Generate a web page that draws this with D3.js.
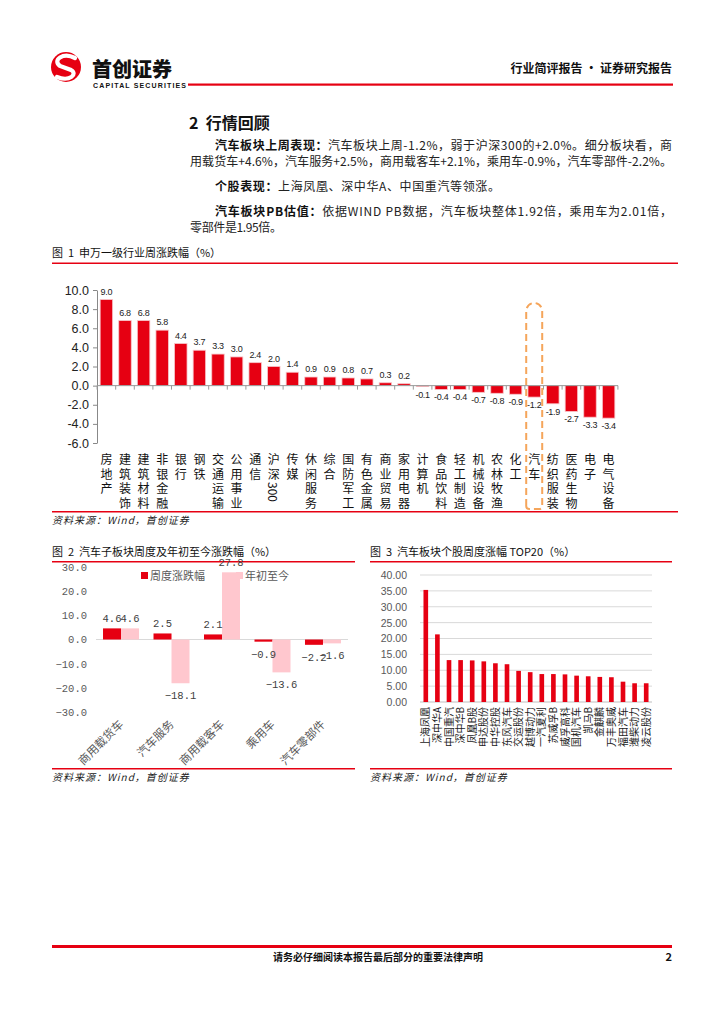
<!DOCTYPE html>
<html><head><meta charset="utf-8">
<script src="https://cdn.jsdelivr.net/npm/d3@7"></script>
<style>body{margin:0;background:#fff}svg{display:block}</style>
</head><body>
<svg id="c" width="724" height="1024"></svg>
<script>
// ---------- data ----------
const industries = ["房地产","建筑装饰","建筑材料","非银金融","银行","钢铁","交通运输","公用事业","通信","沪深300","传媒","休闲服务","综合","国防军工","有色金属","商业贸易","家用电器","计算机","食品饮料","轻工制造","机械设备","农林牧渔","化工","汽车","纺织服装","医药生物","电子","电气设备"];
const industryChange = [9.0,6.8,6.8,5.8,4.4,3.7,3.3,3.0,2.4,2.0,1.4,0.9,0.9,0.8,0.7,0.3,0.2,-0.1,-0.4,-0.4,-0.7,-0.8,-0.9,-1.2,-1.9,-2.7,-3.3,-3.4];
const fig1Ticks = [10,8,6,4,2,0,-2,-4,-6];
const highlightIndustry = "汽车";

const subSectors = ["商用载货车","汽车服务","商用载客车","乘用车","汽车零部件"];
const subWeekly = [4.6,2.5,2.1,-0.9,-2.2];
const subYtd = [4.6,-18.1,27.8,-13.6,-1.6];
const subSeriesNames = ["周度涨跌幅","年初至今"];
const fig2Ticks = [30,20,10,0,-10,-20,-30];

const stocks = ["上海凤凰","深中华A","中国重汽","深中华B","凤凰B股","申达股份","中华控股","东风汽车","交运股份","越博动力","一汽夏利","苏威孚B","威孚高科","国机汽车","凯马B","金麒麟","万丰奥威","福田汽车","潍柴动力","凌云股份"];
const stockGain = [35.3,21.3,13.2,13.2,13.1,12.8,12.2,11.9,9.8,9.4,8.8,8.8,8.7,8.3,8.1,7.9,7.8,6.4,5.9,5.9];
const fig3Ticks = [0,5,10,15,20,25,30,35,40];

// ---------- styles ----------
const RED = "#E60012", PINK = "#FFC7CE", CJK = "'Noto Sans CJK SC','Noto Sans',sans-serif";
const LAT = "'Liberation Sans','Noto Sans CJK SC',sans-serif";
const MONO = "'Liberation Mono','Noto Sans CJK SC',monospace";
const svg = d3.select("#c");
svg.append("rect").attr("width",724).attr("height",1024).attr("fill","#fff");

// ---------- header ----------
const logo = svg.append("g");
logo.append("circle").attr("cx",66).attr("cy",67).attr("r",15).attr("fill",RED);
logo.append("path").attr("d","M75 58 C63 52,52 60,60 66 L71 70 C78 74,70 82,57 77")
  .attr("fill","none").attr("stroke","#fff").attr("stroke-width",4.2).attr("stroke-linecap","round");
svg.append("text").attr("x",92).attr("y",76.5).attr("font-family",CJK).attr("font-weight",900)
  .attr("font-size",20).attr("fill","#111").text("首创证券");
svg.append("text").attr("x",93).attr("y",88).attr("font-family",LAT).attr("font-weight",700)
  .attr("font-size",7).attr("fill","#111").attr("textLength",93).text("CAPITAL SECURITIES");
svg.append("rect").attr("x",188).attr("y",83.5).attr("width",485).attr("height",2.2).attr("fill",RED);
svg.append("text").attr("x",672).attr("y",73).attr("text-anchor","end").attr("font-family",CJK)
  .attr("font-weight",700).attr("font-size",12).attr("fill","#111").text("行业简评报告 · 证券研究报告");

// ---------- body text ----------
svg.append("text").attr("x",189).attr("y",129).attr("font-family",CJK).attr("font-weight",700)
  .attr("font-size",16).attr("fill","#111").style("white-space","pre").text("2  行情回顾");
function para(x, y, len, bold, normal){
  const t = svg.append("text").attr("x",x).attr("y",y).attr("font-family",CJK).attr("font-size",12)
    .attr("fill","#222");
  if(len) t.attr("textLength",len).attr("lengthAdjust","spacing");
  if(bold) t.append("tspan").attr("font-weight",700).attr("fill","#111").text(bold);
  if(normal) t.append("tspan").text(normal);
}
para(215,150,457,"汽车板块上周表现：","汽车板块上周-1.2%，弱于沪深300的+2.0%。细分板块看，商");
para(190,166,482,null,"用载货车+4.6%，汽车服务+2.5%，商用载客车+2.1%，乘用车-0.9%，汽车零部件-2.2%。");
para(215,191,285,"个股表现：","上海凤凰、深中华A、中国重汽等领涨。");
para(215,216,457,"汽车板块PB估值：","依据WIND PB数据，汽车板块整体1.92倍，乘用车为2.01倍，");
para(190,232,92,null,"零部件是1.95倍。");

// ---------- figure titles / source lines ----------
function title(x,y,txt){
  svg.append("text").attr("x",x).attr("y",y).attr("font-family",CJK).attr("font-size",11)
    .attr("fill","#111").style("white-space","pre").text(txt);
}
function redLine(x1,x2,y,w){
  svg.append("rect").attr("x",x1).attr("y",y).attr("width",x2-x1).attr("height",w||1.5).attr("fill",RED);
}
function source(x,y){
  svg.append("text").attr("x",x).attr("y",y).attr("font-family",CJK).attr("font-size",10)
    .attr("font-style","italic").attr("letter-spacing",1).attr("fill","#222").text("资料来源：Wind，首创证券");
}
title(52,257,"图  1  申万一级行业周涨跌幅（%）"); redLine(52,678,262.5);
redLine(52,678,511); source(52,524);
title(52,556,"图  2  汽车子板块周度及年初至今涨跌幅（%）"); redLine(52,355,561);
title(370,556,"图  3  汽车板块个股周度涨幅 TOP20（%）"); redLine(370,672,561);
redLine(52,355,768); source(52,781);
redLine(370,672,768); source(370,781);

// ---------- Chart 1 ----------
(function(){
  const x = d3.scaleBand().domain(industries).range([97,618]).paddingInner(0.33).paddingOuter(0.17);
  const y = d3.scaleLinear().domain([-6,10]).range([443,290]);
  const g = svg.append("g");
  const ax = g.append("g").attr("transform","translate(97,0)")
    .call(d3.axisLeft(y).tickValues(fig1Ticks).tickFormat(d=>d.toFixed(1)).tickSize(4).tickSizeOuter(0));
  ax.select(".domain").attr("stroke","#888");
  ax.selectAll(".tick line").attr("stroke","#888");
  ax.selectAll("text").attr("font-family",LAT).attr("font-size",12.5).attr("fill","#222").attr("dx",-1);
  // bars
  g.selectAll("rect.b").data(industries).join("rect").attr("class","b")
    .attr("x",d=>x(d)).attr("width",x.bandwidth())
    .attr("y",(d,i)=>y(Math.max(0,industryChange[i])))
    .attr("height",(d,i)=>Math.abs(y(industryChange[i])-y(0)))
    .attr("fill",RED).attr("stroke","#F7C5C9").attr("stroke-width",0.8);
  // zero axis with category ticks
  g.append("line").attr("x1",97).attr("x2",618).attr("y1",y(0)).attr("y2",y(0)).attr("stroke","#999");
  const step = x.step();
  const bounds = industries.map(d=>x(d)-(step-x.bandwidth())/2).concat([x(industries[industries.length-1])+x.bandwidth()+(step-x.bandwidth())/2]);
  g.selectAll("line.t").data(bounds).join("line").attr("class","t")
    .attr("x1",d=>d).attr("x2",d=>d).attr("y1",y(0)).attr("y2",y(0)+4).attr("stroke","#999");
  // value labels
  g.selectAll("text.v").data(industries).join("text").attr("class","v")
    .attr("x",d=>x(d)+x.bandwidth()/2)
    .attr("y",(d,i)=>industryChange[i]>=0? y(industryChange[i])-5 : y(industryChange[i])+11)
    .attr("text-anchor","middle").attr("font-family",LAT).attr("font-size",9).attr("fill","#222")
    .attr("letter-spacing",-0.3)
    .text((d,i)=>industryChange[i].toFixed(1));
  // vertical category labels (vertical writing mode)
  g.selectAll("text.c").data(industries).join("text").attr("class","c")
    .attr("x",d=>x(d)+x.bandwidth()/2).attr("y",453)
    .style("writing-mode","vertical-rl")
    .attr("font-family",CJK).attr("font-size",12).attr("fill","#111")
    .each(function(d){
      const t = d3.select(this);
      (d.match(/\d+|./g)).forEach(tk=>{
        t.append("tspan").attr("letter-spacing", /\d/.test(tk)?0:2.5).text(tk);
      });
    });
  // highlight dashed outline
  const hx = x(highlightIndustry)+x.bandwidth()/2, hw = 16, top = 303, bot = 509, r = 8;
  const p = d3.path();
  p.moveTo(hx-hw/2, bot-3);
  p.lineTo(hx-hw/2, top+r);
  p.arc(hx, top+r, hw/2, Math.PI, 0);
  p.lineTo(hx+hw/2, bot-3);
  p.quadraticCurveTo(hx+hw/2, bot, hx+hw/2-3, bot);
  p.lineTo(hx-hw/2+3, bot);
  p.quadraticCurveTo(hx-hw/2, bot, hx-hw/2, bot-3);
  g.append("path").attr("d",p.toString()).attr("fill","none").attr("stroke","#F5A55B")
    .attr("stroke-width",2).attr("stroke-dasharray","7,4");
})();

// ---------- Chart 2 ----------
(function(){
  const x0 = d3.scaleBand().domain(subSectors).range([96,348]).paddingInner(0.287).paddingOuter(0.139);
  const x1 = d3.scaleBand().domain([0,1]).range([0,x0.bandwidth()]);
  const y = d3.scaleLinear().domain([-30,30]).range([712,567]);
  const g = svg.append("g");
  const ax = g.append("g").attr("transform","translate(92,0)")
    .call(d3.axisLeft(y).tickValues(fig2Ticks).tickFormat(d=>d.toFixed(1).replace("-","\u2212")).tickSize(0));
  ax.select(".domain").remove();
  ax.selectAll("text").attr("font-family",MONO).attr("font-size",10.5).attr("fill","#595959").attr("dx",-2);
  // legend
  g.append("rect").attr("x",236).attr("y",572).attr("width",7).attr("height",7).attr("fill",PINK);
  g.append("text").attr("x",245).attr("y",580).attr("font-family",CJK).attr("font-size",11)
    .attr("fill","#595959").text(subSeriesNames[1]);
  g.append("rect").attr("x",141).attr("y",572).attr("width",7).attr("height",7).attr("fill",RED);
  g.append("text").attr("x",150).attr("y",580).attr("font-family",CJK).attr("font-size",11)
    .attr("fill","#595959").text(subSeriesNames[0]);
  // zero line
  g.append("line").attr("x1",96).attr("x2",348).attr("y1",y(0)).attr("y2",y(0)).attr("stroke","#D9D9D9");
  const series = [subWeekly, subYtd], colors = [RED, PINK];
  series.forEach((vals,si)=>{
    g.selectAll("rect.s"+si).data(subSectors).join("rect").attr("class","s"+si)
      .attr("x",d=>x0(d)+x1(si)).attr("width",x1.bandwidth())
      .attr("y",(d,i)=>y(Math.max(0,vals[i]))).attr("height",(d,i)=>Math.abs(y(vals[i])-y(0)))
      .attr("fill",colors[si]);
  });
  series.forEach((vals,si)=>{
    g.selectAll("text.l"+si).data(subSectors).join("text").attr("class","l"+si)
      .attr("x",d=>x0(d)+x1(si)+x1.bandwidth()/2)
      .attr("y",(d,i)=>vals[i]>=0? y(vals[i])-6 : y(vals[i])+16)
      .attr("text-anchor","middle").attr("font-family",MONO).attr("font-size",10.5).attr("fill","#404040")
      .text((d,i)=>vals[i].toFixed(1).replace("-","\u2212"));
  });
  // rotated category labels
  g.selectAll("text.c").data(subSectors).join("text").attr("class","c")
    .attr("transform",d=>`translate(${x0(d)+x0.bandwidth()/2+3},${725}) rotate(-45)`)
    .attr("text-anchor","end").attr("font-family",CJK).attr("font-size",11.5).attr("fill","#595959")
    .text(d=>d);
})();

// ---------- Chart 3 ----------
(function(){
  const x = d3.scaleBand().domain(stocks).range([420,652]).paddingInner(0.6).paddingOuter(0.3);
  const y = d3.scaleLinear().domain([0,40]).range([702,575]);
  const g = svg.append("g");
  g.selectAll("line.gr").data(fig3Ticks).join("line").attr("class","gr")
    .attr("x1",420).attr("x2",652).attr("y1",d=>y(d)).attr("y2",d=>y(d))
    .attr("stroke",d=>d===0?"#BFBFBF":"#D9D9D9");
  const ax = g.append("g").attr("transform","translate(412,0)")
    .call(d3.axisLeft(y).tickValues(fig3Ticks).tickFormat(d=>d.toFixed(2)).tickSize(0));
  ax.select(".domain").remove();
  ax.selectAll("text").attr("font-family",LAT).attr("font-size",10.5).attr("fill","#595959").attr("dx",-2);
  g.selectAll("rect.b").data(stocks).join("rect").attr("class","b")
    .attr("x",d=>x(d)).attr("width",x.bandwidth())
    .attr("y",(d,i)=>y(stockGain[i])).attr("height",(d,i)=>y(0)-y(stockGain[i]))
    .attr("fill",RED);
  g.selectAll("text.c").data(stocks).join("text").attr("class","c")
    .attr("transform",d=>`translate(${x(d)+x.bandwidth()/2+3.5},707) rotate(-90)`)
    .attr("text-anchor","end").attr("font-family",CJK).attr("font-size",10).attr("fill","#222")
    .text(d=>d);
})();

// ---------- footer ----------
svg.append("rect").attr("x",52).attr("y",945).attr("width",620).attr("height",3).attr("fill",RED);
svg.append("text").attr("x",378).attr("y",961).attr("text-anchor","middle").attr("font-family",CJK)
  .attr("font-weight",700).attr("font-size",10).attr("fill","#111").text("请务必仔细阅读本报告最后部分的重要法律声明");
svg.append("text").attr("x",672).attr("y",961).attr("text-anchor","end").attr("font-family",CJK)
  .attr("font-weight",700).attr("font-size",11).attr("fill","#111").text("2");
</script>
</body></html>
